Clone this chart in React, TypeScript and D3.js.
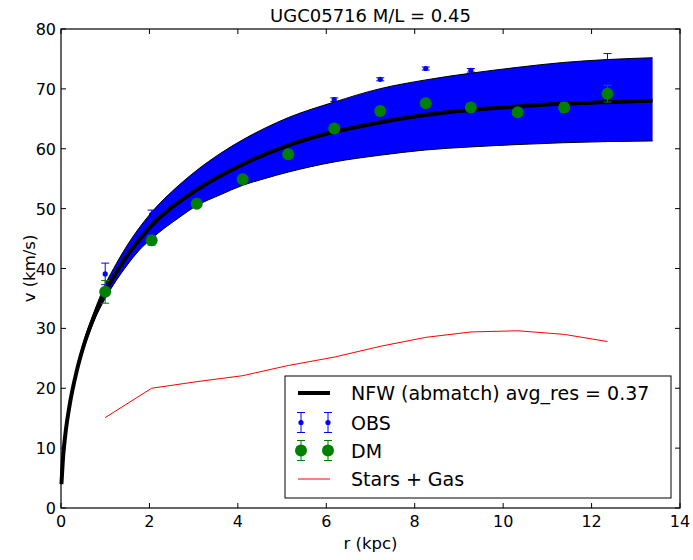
import React from "react";
import * as d3 from "d3";

// ---- data ----
const radii = [1.0, 2.05, 3.07, 4.11, 5.14, 6.18, 7.22, 8.25, 9.27, 10.33, 11.38, 12.36];
const obsV = [39.1, 49.0, 55.0, 59.2, 63.8, 68.2, 71.6, 73.4, 73.1, 72.4, 72.9, 74.6];
const obsErr = [1.8, 0.75, 0.5, 0.5, 0.5, 0.3, 0.25, 0.25, 0.3, 0.5, 0.7, 1.3];
const dmV = [36.1, 44.7, 50.8, 54.9, 59.1, 63.4, 66.3, 67.6, 66.9, 66.1, 66.9, 69.2];
const dmErr = [1.9, 0.8, 0.54, 0.54, 0.54, 0.32, 0.27, 0.27, 0.33, 0.55, 0.76, 1.4];
const starsGasV = [15.1, 20.0, 21.1, 22.1, 23.8, 25.2, 27.0, 28.5, 29.4, 29.6, 29.0, 27.8];

const nfwR = [0.01, 0.05, 0.1, 0.2, 0.35, 0.5, 0.75, 1, 1.25, 1.5, 1.75, 2, 3, 4, 5, 6, 7, 8, 9, 10, 11, 12, 13, 13.38];
const nfwV = [4.0, 8.8, 12.4, 17.4, 22.7, 26.8, 32.0, 36.1, 39.3, 42.2, 44.6, 46.8, 52.8, 57.0, 60.2, 62.5, 64.1, 65.4, 66.3, 66.9, 67.4, 67.7, 67.95, 68.0];

const bandR = [0.01, 0.1, 0.25, 0.5, 0.75, 1, 1.25, 1.5, 1.75, 2.05, 2.65, 3.07, 3.6, 4.11, 4.6, 5.14, 6.18, 7.2, 8.25, 9.25, 10.33, 11.35, 12.36, 13.38];
const bandUpper = [4.05, 12.5, 19.7, 27.4, 32.8, 37.3, 40.8, 43.9, 46.6, 49.4, 53.8, 56.4, 59.2, 61.5, 63.4, 65.2, 67.8, 70.0, 71.5, 72.6, 73.6, 74.4, 74.9, 75.2];
const bandLower = [3.95, 12.3, 19.1, 26.2, 31.3, 35.0, 38.0, 40.6, 42.9, 45.0, 48.4, 50.5, 52.3, 53.9, 55.0, 56.1, 57.8, 58.9, 59.8, 60.3, 60.7, 61.0, 61.2, 61.3];

const xTicks = [0, 2, 4, 6, 8, 10, 12, 14];
const yTicks = [0, 10, 20, 30, 40, 50, 60, 70, 80];

const titleText = "UGC05716 M/L = 0.45";
const xLabel = "r (kpc)";
const yLabel = "v (km/s)";
const legendLabels = ["NFW (abmatch) avg_res = 0.37", "OBS", "DM", "Stars + Gas"];

const W = 693;
const H = 560;
const FONT = "DejaVu Sans, sans-serif";
const BLUE = "#0000ff";
const GREEN = "#008000";
const RED = "#ff0000";

export default function App() {
  const x = d3.scaleLinear().domain([0, 14]).range([61, 680]);
  const y = d3.scaleLinear().domain([0, 80]).range([508, 29]);
  const [x0, x1] = x.range();
  const [yb, yt] = y.range();

  const nfwPts = nfwR.map((r, i) => [r, nfwV[i]] as [number, number]);
  const nfwLine = d3
    .line<[number, number]>()
    .x((d) => x(d[0]))
    .y((d) => y(d[1]))
    .curve(d3.curveMonotoneX)(nfwPts);

  const bandIdx = bandR.map((_, i) => i);
  const bandArea = d3
    .area<number>()
    .x((i) => x(bandR[i]))
    .y0((i) => y(bandLower[i]))
    .y1((i) => y(bandUpper[i]))
    .curve(d3.curveMonotoneX)(bandIdx);
  const upperLine = d3
    .line<number>()
    .x((i) => x(bandR[i]))
    .y((i) => y(bandUpper[i]))
    .curve(d3.curveMonotoneX)(bandIdx);
  const lowerLine = d3
    .line<number>()
    .x((i) => x(bandR[i]))
    .y((i) => y(bandLower[i]))
    .curve(d3.curveMonotoneX)(bandIdx);

  const sgLine = d3
    .line<number>()
    .x((i) => x(radii[i]))
    .y((i) => y(starsGasV[i]))(radii.map((_, i) => i));

  const cap = 4;
  const errBar = (cx: number, v: number, e: number, color: string, key: string) => (
    <g key={key} stroke={color} strokeWidth={1}>
      <line x1={cx} x2={cx} y1={y(v - e)} y2={y(v + e)} />
      <line x1={cx - cap} x2={cx + cap} y1={y(v - e)} y2={y(v - e)} />
      <line x1={cx - cap} x2={cx + cap} y1={y(v + e)} y2={y(v + e)} />
    </g>
  );

  // legend layout
  const lgX = 285, lgY = 376, lgW = 386, lgH = 122;
  const rowY = [393, 422.5, 450.5, 479];
  const hx0 = 298, hx1 = 330;
  const textX = 351;

  return (
    <svg
      width={W}
      height={H}
      style={{ position: "absolute", left: 0, top: 0, background: "#fff" }}
      fontFamily={FONT}
    >
      <rect x={0} y={0} width={W} height={H} fill="#fff" />

      {/* OBS */}
      {radii.map((r, i) => errBar(x(r), obsV[i], obsErr[i], BLUE, "oe" + i))}
      {radii.map((r, i) => (
        <circle key={"o" + i} cx={x(r)} cy={y(obsV[i])} r={2.6} fill={BLUE} />
      ))}

      {/* band */}
      <path d={bandArea || ""} fill={BLUE} stroke="none" />
      <path d={upperLine || ""} fill="none" stroke="#000" strokeWidth={1} />
      <path d={lowerLine || ""} fill="none" stroke="#000" strokeWidth={1} />

      {/* NFW */}
      <path d={nfwLine || ""} fill="none" stroke="#000" strokeWidth={4} />

      {/* DM */}
      {radii.map((r, i) => errBar(x(r), dmV[i], dmErr[i], GREEN, "de" + i))}
      {radii.map((r, i) => (
        <circle key={"d" + i} cx={x(r)} cy={y(dmV[i])} r={6} fill={GREEN} />
      ))}

      {/* Stars + Gas */}
      <path d={sgLine || ""} fill="none" stroke={RED} strokeWidth={1} />

      {/* frame */}
      <rect x={x0} y={yt} width={x1 - x0} height={yb - yt} fill="none" stroke="#000" strokeWidth={1.2} />

      {/* ticks */}
      {xTicks.map((t) => (
        <g key={"xt" + t} stroke="#000" strokeWidth={1}>
          <line x1={x(t)} x2={x(t)} y1={yb} y2={yb - 5} />
          <line x1={x(t)} x2={x(t)} y1={yt} y2={yt + 5} />
        </g>
      ))}
      {yTicks.map((t) => (
        <g key={"yt" + t} stroke="#000" strokeWidth={1}>
          <line x1={x0} x2={x0 + 5} y1={y(t)} y2={y(t)} />
          <line x1={x1} x2={x1 - 5} y1={y(t)} y2={y(t)} />
        </g>
      ))}
      {xTicks.map((t) => (
        <text key={"xl" + t} x={x(t)} y={527} fontSize={16} textAnchor="middle" fill="#000">
          {t}
        </text>
      ))}
      {yTicks.map((t) => (
        <text key={"yl" + t} x={56} y={y(t) + 6} fontSize={16} textAnchor="end" fill="#000">
          {t}
        </text>
      ))}

      {/* labels */}
      <text x={(x0 + x1) / 2} y={549} fontSize={16.5} textAnchor="middle" fill="#000">
        {xLabel}
      </text>
      <text
        transform={`translate(35, ${(yb + yt) / 2}) rotate(-90)`}
        fontSize={16.5}
        textAnchor="middle"
        fill="#000"
      >
        {yLabel}
      </text>
      <text x={(x0 + x1) / 2} y={22} fontSize={18} textAnchor="middle" fill="#000">
        {titleText}
      </text>

      {/* legend */}
      <rect x={lgX} y={lgY} width={lgW} height={lgH} fill="#fff" stroke="#000" strokeWidth={1} />
      <line x1={hx0} x2={hx1} y1={rowY[0]} y2={rowY[0]} stroke="#000" strokeWidth={4} />
      {[hx0 + 3, hx1 - 2].map((cx, k) => (
        <g key={"lo" + k}>
          <g stroke={BLUE} strokeWidth={1}>
            <line x1={cx} x2={cx} y1={rowY[1] - 10} y2={rowY[1] + 10} />
            <line x1={cx - cap} x2={cx + cap} y1={rowY[1] - 10} y2={rowY[1] - 10} />
            <line x1={cx - cap} x2={cx + cap} y1={rowY[1] + 10} y2={rowY[1] + 10} />
          </g>
          <circle cx={cx} cy={rowY[1]} r={2.6} fill={BLUE} />
          <g stroke={GREEN} strokeWidth={1}>
            <line x1={cx} x2={cx} y1={rowY[2] - 10} y2={rowY[2] + 10} />
            <line x1={cx - cap} x2={cx + cap} y1={rowY[2] - 10} y2={rowY[2] - 10} />
            <line x1={cx - cap} x2={cx + cap} y1={rowY[2] + 10} y2={rowY[2] + 10} />
          </g>
          <circle cx={cx} cy={rowY[2]} r={6} fill={GREEN} />
        </g>
      ))}
      <line x1={hx0} x2={hx1} y1={rowY[3]} y2={rowY[3]} stroke={RED} strokeWidth={1} />
      {legendLabels.map((s, i) => (
        <text key={"lt" + i} x={textX} y={rowY[i] + 7} fontSize={19} fill="#000">
          {s}
        </text>
      ))}
    </svg>
  );
}
